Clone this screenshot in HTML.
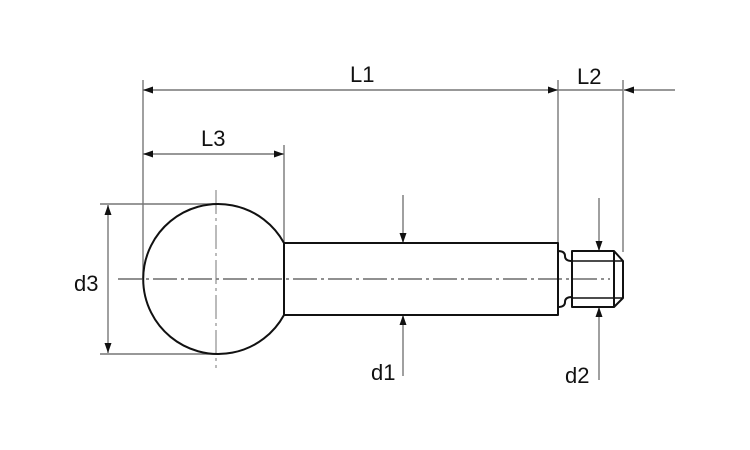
<!DOCTYPE html>
<html><head><meta charset="utf-8"><style>
html,body{margin:0;padding:0;background:#fff;}
svg{display:block;}
text{font-family:"Liberation Sans",sans-serif;font-size:22px;fill:#111;}
</style></head><body>
<svg width="750" height="450" viewBox="0 0 750 450" xmlns="http://www.w3.org/2000/svg">
<defs>
<marker id="a" viewBox="0 0 10 10" refX="10" refY="5" markerWidth="10" markerHeight="10" markerUnits="userSpaceOnUse" orient="auto-start-reverse">
<path d="M0,1.5 L10,5 L0,8.5 Z" fill="#111"/></marker>
</defs>
<g stroke="#777" stroke-width="1.4" fill="none">
<line x1="143" y1="80" x2="143" y2="279"/>
<line x1="284" y1="145" x2="284" y2="243"/>
<line x1="558" y1="80" x2="558" y2="243"/>
<line x1="623" y1="80" x2="623" y2="252"/>
<line x1="100" y1="204" x2="216" y2="204"/>
<line x1="100" y1="354" x2="220" y2="354"/>
<line x1="143" y1="90" x2="558" y2="90" marker-start="url(#a)" marker-end="url(#a)"/>
<line x1="143" y1="154" x2="284" y2="154" marker-start="url(#a)" marker-end="url(#a)"/>
<line x1="558" y1="90" x2="623" y2="90"/>
<line x1="675" y1="90" x2="624" y2="90" marker-end="url(#a)"/>
<line x1="108" y1="205" x2="108" y2="353" marker-start="url(#a)" marker-end="url(#a)"/>
<line x1="403" y1="195" x2="403" y2="243" marker-end="url(#a)"/>
<line x1="403" y1="376" x2="403" y2="315" marker-end="url(#a)"/>
<line x1="599" y1="198" x2="599" y2="251" marker-end="url(#a)"/>
<line x1="599" y1="380" x2="599" y2="307" marker-end="url(#a)"/>
<line x1="118" y1="279" x2="610" y2="279" stroke="#222" stroke-width="1" stroke-dasharray="24,4,3,4"/>
<line x1="216" y1="190" x2="216" y2="368" stroke="#777" stroke-width="1" stroke-dasharray="24,4,3,4"/>
</g>
<g stroke="#111" stroke-width="2" fill="none" stroke-linejoin="round">
<path d="M284,243 A75,75 0 1 0 284,315 Z"/>
<path d="M284,243 L558,243 L558,315 L284,315"/>
<path d="M558,243 L558,251 Q565,251 565,256 Q565,261 572,261 M558,315 L558,307 Q565,307 565,302 Q565,297 572,297"/>
<path d="M572,251 L614,251 L623,261 L623,298 L614,307 L572,307 Z"/>
<line x1="614" y1="251" x2="614" y2="307"/>
<line x1="572" y1="261" x2="623" y2="261" stroke-width="1.6"/>
<line x1="572" y1="298" x2="623" y2="298" stroke-width="1.6"/>
</g>
<text x="350" y="82">L1</text>
<text x="577" y="84">L2</text>
<text x="201" y="146">L3</text>
<text x="74" y="291">d3</text>
<text x="371" y="380">d1</text>
<text x="565" y="383">d2</text>
</svg>
</body></html>
